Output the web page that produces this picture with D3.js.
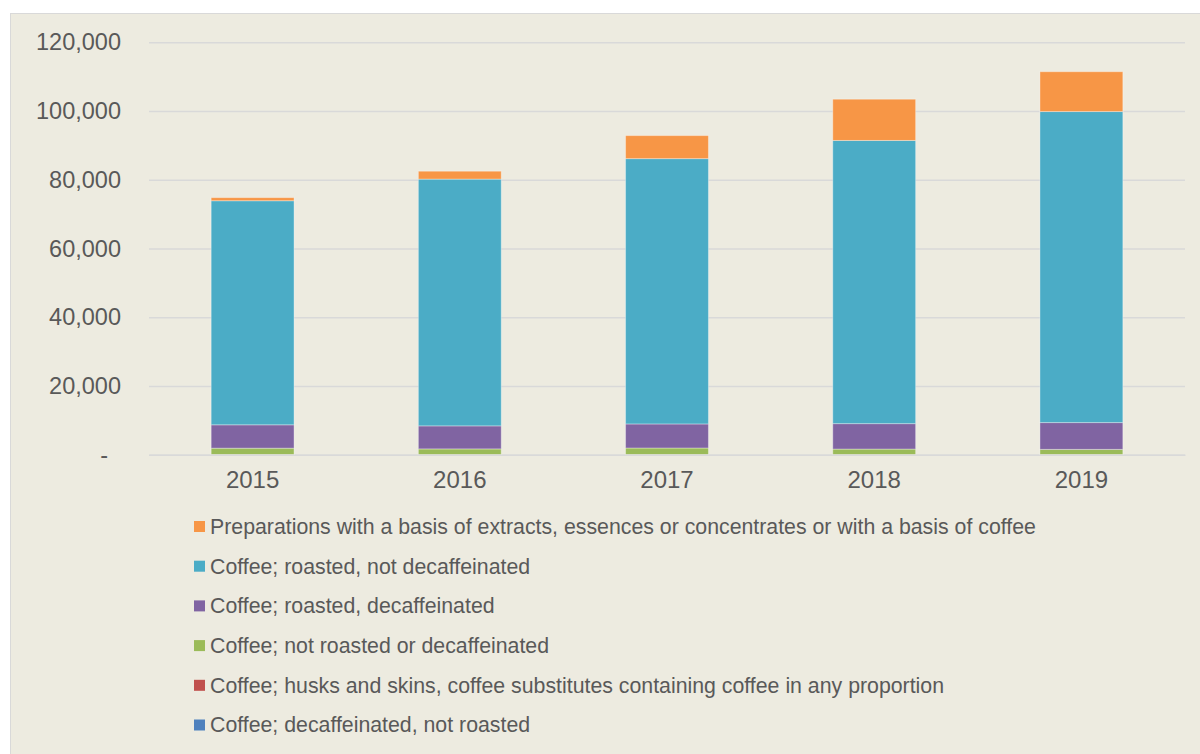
<!DOCTYPE html>
<html>
<head>
<meta charset="utf-8">
<script src="https://cdn.jsdelivr.net/npm/d3@7"></script>
<style>
  html, body { margin: 0; padding: 0; background: #ffffff; }
  svg { display: block; }
  text { font-family: "Liberation Sans", Arial, sans-serif; fill: #595959; }
</style>
</head>
<body>
<svg id="chart" width="1200" height="754"></svg>
<script>
// ---- data ----
const years = ["2015", "2016", "2017", "2018", "2019"];
const seriesNames = [
  "Coffee; decaffeinated, not roasted",
  "Coffee; husks and skins, coffee substitutes containing coffee in any proportion",
  "Coffee; not roasted or decaffeinated",
  "Coffee; roasted, decaffeinated",
  "Coffee; roasted, not decaffeinated",
  "Preparations with a basis of extracts, essences or concentrates or with a basis of coffee"
];
const decafNotRoasted = [20, 15, 20, 15, 20];
const husksSkins = [30, 25, 30, 25, 25];
const notRoasted = [1850, 1650, 1900, 1600, 1500];
const roastedDecaf = [6800, 6700, 7000, 7400, 7800];
const roastedNotDecaf = [65200, 71800, 77200, 82400, 90500];
const preparations = [900, 2300, 6700, 12000, 11600];
const yTicks = [0, 20000, 40000, 60000, 80000, 100000, 120000];
const seriesColors = ["#4F81BD", "#C0504D", "#9BBB59", "#8064A2", "#4BACC6", "#F79646"];

const seriesValues = [decafNotRoasted, husksSkins, notRoasted, roastedDecaf, roastedNotDecaf, preparations];

// ---- build table ----
const table = years.map((y, i) => {
  const row = { year: y };
  seriesNames.forEach((s, k) => { row[s] = seriesValues[k][i]; });
  return row;
});

const svg = d3.select("#chart");

// panel background
svg.append("rect")
  .attr("x", 10.5).attr("y", 13.5)
  .attr("width", 1200).attr("height", 760)
  .attr("fill", "#EDEBE0")
  .attr("stroke", "#D9D9D9").attr("stroke-width", 1);

const plot = { left: 149, right: 1185, top: 42.3, bottom: 454.7 };

const x = d3.scaleBand().domain(years).range([plot.left, plot.right]).paddingInner(0.6).paddingOuter(0.3);
const y = d3.scaleLinear().domain([0, 120000]).range([plot.bottom, plot.top]);

// gridlines
const grid = svg.append("g")
  .attr("transform", `translate(${plot.left},0)`)
  .call(d3.axisLeft(y).tickValues(yTicks).tickSize(-(plot.right - plot.left)).tickFormat(""));
grid.select(".domain").remove();
grid.selectAll(".tick line").attr("stroke", "#D9D9D9").attr("stroke-width", 1.5);

// y labels
const yAxis = svg.append("g")
  .attr("transform", `translate(121,0)`)
  .call(d3.axisLeft(y).tickValues(yTicks).tickSize(0).tickPadding(0)
    .tickFormat(d => d === 0 ? "-" : d3.format(",")(d)));
yAxis.select(".domain").remove();
yAxis.selectAll(".tick text")
  .attr("font-size", 23.5)
  .attr("font-family", "Liberation Sans, Arial, sans-serif")
  .attr("fill", "#595959")
  .attr("dx", d => d === 0 ? -13 : 0);

// stacked bars
const stack = d3.stack().keys(seriesNames);
const stacked = stack(table);

svg.append("g").selectAll("g")
  .data(stacked)
  .join("g")
  .attr("fill", (d, i) => seriesColors[i])
  .selectAll("rect")
  .data(d => d)
  .join("rect")
  .attr("x", d => x(d.data.year))
  .attr("width", x.bandwidth())
  .attr("y", d => y(d[1]))
  .attr("height", d => Math.max(0, y(d[0]) - y(d[1])))
  .attr("stroke", "#ffffff")
  .attr("stroke-opacity", 0.35)
  .attr("stroke-width", 1);

// x axis
const xAxis = svg.append("g")
  .attr("transform", `translate(0,${plot.bottom})`)
  .call(d3.axisBottom(x).tickSize(0).tickPadding(16));
xAxis.select(".domain").attr("stroke", "#D9D9D9").attr("stroke-width", 1.5);
xAxis.selectAll(".tick text")
  .attr("font-size", 24)
  .attr("font-family", "Liberation Sans, Arial, sans-serif")
  .attr("fill", "#595959");

// legend
const legendOrder = seriesNames.map((s, i) => ({ name: s, color: seriesColors[i] })).reverse();
const legend = svg.append("g");
const lg = legend.selectAll("g")
  .data(legendOrder)
  .join("g")
  .attr("transform", (d, i) => `translate(194,${526.5 + i * 39.7})`);
lg.append("rect")
  .attr("x", 0).attr("y", -5.5)
  .attr("width", 11).attr("height", 11)
  .attr("fill", d => d.color);
lg.append("text")
  .attr("x", 16).attr("y", 0)
  .attr("dy", "0.35em")
  .attr("font-size", 21.3)
  .text(d => d.name);
</script>
</body>
</html>
